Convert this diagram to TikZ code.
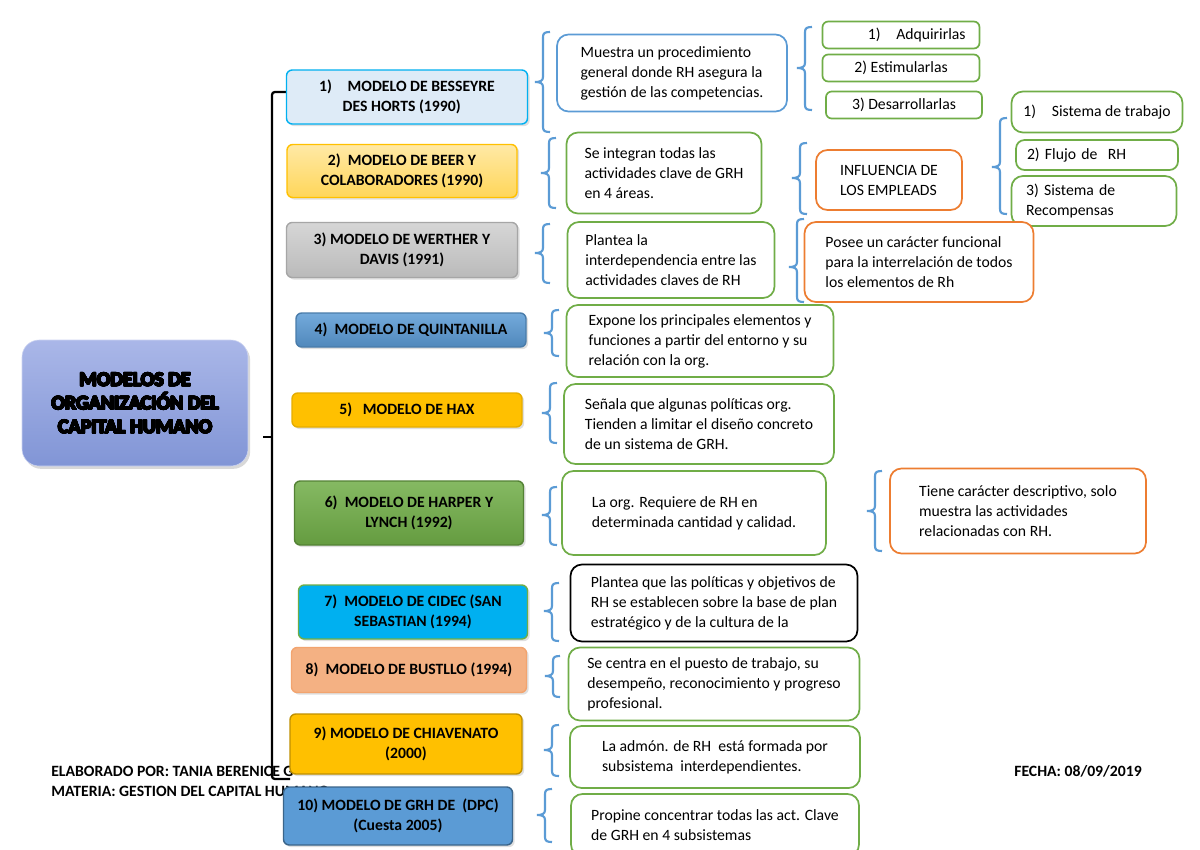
\documentclass[tikz,border=0pt]{standalone}
\usepackage{fontspec}
\setmainfont{Carlito}
\newfontfamily\heavyfont[FakeBold=2.5]{Carlito Bold}
\usepackage{contour}
\contourlength{0.35pt}
\contournumber{16}
\usepackage{tikz}
\usetikzlibrary{shadows}

\definecolor{azul}{HTML}{5B9BD5}
\definecolor{verde}{HTML}{70AD47}
\definecolor{naranja}{HTML}{ED7D31}
\definecolor{oro}{HTML}{FFC000}
\definecolor{cian}{HTML}{00B0F0}
\definecolor{salmon}{HTML}{F4B183}
\definecolor{lila1}{HTML}{AAB7E8}
\definecolor{lila2}{HTML}{8195D6}

% brace: x, top, middle, bottom
\newcommand{\llave}[4]{%
  \draw[llavecol] ({#1+7},#2) .. controls ({#1+2},#2) and (#1,{#2+1}) .. (#1,{#2+5})
    -- (#1,{#3-5}) .. controls (#1,{#3-1}) and ({#1-3},#3) .. ({#1-8},#3)
    .. controls ({#1-3},#3) and (#1,{#3+1}) .. (#1,{#3+5})
    -- (#1,{#4-5}) .. controls (#1,{#4-1}) and ({#1+2},#4) .. ({#1+7},#4);}

\tikzset{
  sz/.style 2 args={minimum width=#1*0.7pt, minimum height=#2*0.7pt},
  modelo/.style={draw, rounded corners=4pt, line width=1pt, align=center,
    font=\fontsize{11}{14}\selectfont\bfseries, inner sep=0pt,
    drop shadow={opacity=0.25, shadow xshift=1.5pt, shadow yshift=-1.5pt}},
  nota/.style={draw=verde, fill=white, rounded corners=8pt, line width=1.2pt,
    align=left, font=\fontsize{11}{14}\selectfont, inner sep=0pt},
  pie/.style={font=\fontsize{11}{14}\selectfont\bfseries, inner sep=0pt},
  llavecol/.style={draw=azul, line width=1.5pt},
}

\begin{document}
\begin{tikzpicture}[x=0.7pt, y=-0.7pt]
      \clip (0,0) rectangle (1200,849);
      \fill[white] (0,0) rectangle (1200,849);

      % footer
      \node[pie, anchor=base west] (autor) at (51,776) {ELABORADO POR: TANIA BERENICE G};
      \node[pie, anchor=base west] (materia) at (51,796) {MATERIA: GESTION DEL CAPITAL HUMANO};
      \node[pie, anchor=base west] (fecha) at (1014,776) {FECHA: 08/09/2019};

      % title
      \node[sz={226}{126}, rounded corners=12pt, top color=lila1, bottom color=lila2,
            draw=lila1!60!white, align=center,
            drop shadow={opacity=0.3, shadow xshift=1.5pt, shadow yshift=-2pt},
            font=\fontsize{14}{16.5}\selectfont\heavyfont]
            (titulo) at (135,403) {\contour{black}{MODELOS DE}\\\contour{black}{ORGANIZACIÓN DEL}\\\contour{black}{CAPITAL HUMANO}};

      % main bracket
      \draw[line width=1.6pt, rounded corners=2pt] (286,92) -- (272,92) -- (272,779) -- (290,779);
      \draw[line width=1.6pt] (272,437) -- (263,437);

      % models
      \node[modelo, sz={241}{54}, fill=azul!20!white, draw=cian, align=left]
            (m1) at (407,97) {1)\quad MODELO DE BESSEYRE\\\hspace*{1.5em}DES HORTS (1990)};
      \node[modelo, sz={230}{53}, top color=oro!35!white, bottom color=oro!65!white,
            draw=oro] (m2) at (402,171) {2)~~MODELO DE BEER Y\\COLABORADORES (1990)};
      \node[modelo, sz={231}{55}, top color=black!16, bottom color=black!27, draw=black!35]
            (m3) at (402,250) {3) MODELO DE WERTHER Y\\DAVIS (1991)};
      \node[modelo, sz={230}{34}, top color=azul!85!white, bottom color=azul!88!black, draw=azul!80!black]
            (m4) at (411,330) {4)~~MODELO DE QUINTANILLA};
      \node[modelo, sz={230}{34}, fill=oro, draw=oro!90!black]
            (m5) at (407,410) {5)~~~MODELO DE HAX};
      \node[modelo, sz={229}{64}, top color=verde!85!white, bottom color=verde!90!black, draw=verde!75!black]
            (m6) at (409,513) {6)~~MODELO DE HARPER Y\\LYNCH (1992)};
      \node[modelo, sz={229}{54}, fill=cian, draw=verde]
            (m7) at (413,612) {7)~~MODELO DE CIDEC (SAN\\SEBASTIAN (1994)};
      \node[modelo, sz={235}{45}, fill=salmon, draw=naranja!70!white]
            (m8) at (409,670) {8)~~MODELO DE BUSTLLO (1994)};
      \node[modelo, sz={232}{60}, fill=oro, draw=oro!75!black]
            (m9) at (406,744) {9) MODELO DE CHIAVENATO\\(2000)};
      \node[modelo, sz={229}{58}, fill=azul, draw=azul!65!black]
            (m10) at (398,816) {10) MODELO DE GRH DE~~(DPC)\\(Cuesta 2005)};

      % model 1
      \llave{543}{32}{82}{132}
      \node[nota, draw=azul, sz={230}{77}] (n1) at (672,73)
            {Muestra un procedimiento\\general donde RH asegura la\\gestión de las competencias.};
      \llave{805}{27}{68}{110}
      \node[nota, sz={157}{27}, rounded corners=4pt] (c1) at (901,35) {\hspace*{2em}1)\quad Adquirirlas};
      \node[nota, sz={157}{27}, rounded corners=4pt] (c2) at (901,68) {2) Estimularlas};
      \node[nota, sz={156}{27}, rounded corners=4pt] (c3) at (904,105) {3) Desarrollarlas};

      % model 2
      \llave{549}{138}{173}{208}
      \node[nota, sz={195}{81}] (n2) at (664,173)
            {Se integran todas las\\actividades clave de GRH\\en 4 áreas.};
      \llave{800}{143}{178}{214}
      \node[nota, draw=naranja, sz={146}{60}] (inf) at (889,180) {INFLUENCIA DE\\LOS EMPLEADS};
      \llave{1000}{118}{167}{214}
      \node[nota, sz={171}{41}] (s1) at (1097,112) {1)\quad Sistema de trabajo};
      \node[nota, sz={162}{30}, rounded corners=6pt, text width=98pt] (s2) at (1097,155) {2) Flujo de~~RH};
      \node[nota, sz={165}{50}, text width=95pt] (s3) at (1094,201) {3) Sistema de\\Recompensas};

      % model 3
      \llave{543}{224}{253}{283}
      \node[nota, sz={207}{76}] (n3) at (671,260)
            {Plantea la\\interdependencia entre las\\actividades claves de RH};
      \llave{797}{219}{267}{302}
      \node[nota, draw=naranja, sz={229}{80}] (n3b) at (919,262)
            {Posee un carácter funcional\\para la interrelación de todos\\los elementos de Rh};

      % model 4
      \llave{552}{310}{333}{356}
      \node[nota, sz={267}{72}] (n4) at (700,341)
            {Expone los principales elementos y\\funciones a partir del entorno y su\\relación con la org.};

      % model 5
      \llave{550}{383}{413}{443}
      \node[nota, sz={270}{80}] (n5) at (699,424)
            {Señala que algunas políticas org.\\Tienden a limitar el diseño concreto\\de un sistema de GRH.};

      % model 6
      \llave{550}{487}{515}{545}
      \node[nota, sz={264}{84}] (n6) at (694,513)
            {La org. Requiere de RH en\\determinada cantidad y calidad.};
      \llave{875}{471}{511}{551}
      \node[nota, draw=naranja, sz={256}{85}] (n6b) at (1018,511)
            {Tiene carácter descriptivo, solo\\muestra las actividades\\relacionadas con RH.};

      % model 7
      \llave{552}{583}{611}{641}
      \node[nota, draw=black, sz={287}{77}] (n7) at (714,603)
            {Plantea que las políticas y objetivos de\\RH se establecen sobre la base de plan\\estratégico y de la cultura de la};

      % model 8
      \llave{553}{656}{676}{697}
      \node[nota, sz={291}{73}] (n8) at (714,684)
            {Se centra en el puesto de trabajo, su\\desempeño, reconocimiento y progreso\\profesional.};

      % model 9
      \llave{552}{725}{750}{776}
      \node[nota, sz={290}{62}] (n9) at (715,757)
            {La admón. de RH~~está formada por\\subsistema~~interdependientes.};

      % model 10
      \llave{545}{789}{815}{842}
      \node[nota, sz={288}{62}] (n10) at (715,825)
            {Propine concentrar todas las act. Clave\\de GRH en 4 subsistemas};
    \end{tikzpicture}
\end{document}
